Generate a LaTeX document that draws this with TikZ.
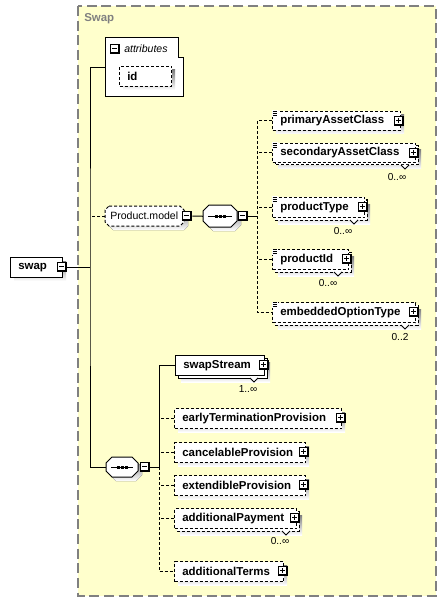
\documentclass[tikz,border=0pt]{standalone}
\usepackage{fontspec}
\setmainfont{Liberation Sans}
\usetikzlibrary{calc}
\definecolor{panelfill}{RGB}{255,255,204}
\definecolor{shade}{RGB}{192,192,192}
\definecolor{pborder}{RGB}{128,128,128}
\newcommand\fb{\fontsize{8.6pt}{10pt}\selectfont\bfseries}
\newcommand\fr{\fontsize{7.9pt}{9pt}\selectfont}
\newcommand\fl{\fontsize{7.6pt}{9pt}\selectfont}
\tikzset{
  bx/.style={draw=black, fill=white, line width=0.75pt, rectangle, inner sep=0pt, anchor=north west},
  optl/.style={dash pattern=on 2.25pt off 1.5pt},
  con/.style={draw=black, line width=0.75pt},
  lbl/.style={font=\fb, inner sep=0pt, anchor=west},
  mult/.style={font=\fl, inner sep=0pt},
}
% single element: #1 style, #2 name, #3 x1, #4 y1, #5 x2, #6 y2, #7 text
\newcommand\elS[7]{%
  \fill[shade] (#3+4,#4+4) rectangle (#5+4,#6+4);
  \node[bx,#1,minimum width={(#5-#3)*0.75pt},minimum height={(#6-#4)*0.75pt}] (#2) at (#3,#4) {};
  \node[lbl] (#2t) at ($(#2.west)+(8,0)$) {#7};
}
% multiple element
\newcommand\elM[7]{%
  \fill[shade] (#3+6,#4+7) rectangle (#5+6,#6+7);
  \draw[fill=white,line width=0.75pt,#1] (#3+3,#4+3) rectangle (#5+3,#6+3);
  \draw[fill=white,line width=0.75pt] (#5-14,#6+3) -- (#5-10,#6+7) -- (#5-6,#6+3);
  \node[bx,#1,minimum width={(#5-#3)*0.75pt},minimum height={(#6-#4)*0.75pt}] (#2) at (#3,#4) {};
  \node[lbl] (#2t) at ($(#2.west)+(8,0)$) {#7};
}
% plus / minus boxes: #1 name, #2 x, #3 y
\newcommand\plusbx[3]{%
  \node[fill=black, minimum size=10*0.75pt, inner sep=0pt] (#1) at (#2,#3) {};
  \fill[white] (#2-4,#3-4) rectangle (#2+3,#3+3);
  \draw[line width=0.75pt] (#2-3,#3-0.5) -- (#2+2,#3-0.5) (#2-0.5,#3-3) -- (#2-0.5,#3+2);
}
\newcommand\minusbx[3]{%
  \node[fill=black, minimum size=10*0.75pt, inner sep=0pt] (#1) at (#2,#3) {};
  \fill[white] (#2-4,#3-4) rectangle (#2+3,#3+3);
  \draw[line width=0.75pt] (#2-3,#3-0.5) -- (#2+2,#3-0.5);
}
% type icon at top-left corner
\newcommand\ticon[2]{%
  \fill[white] (#1-0.5,#2-0.5) rectangle (#1+5.5,#2+6);
  \draw[line width=0.6pt] (#1+0.5,#2+0.5) -- (#1+5,#2+0.5) (#1+0.5,#2+2.5) -- (#1+5,#2+2.5) (#1+0.5,#2+4.5) -- (#1+5,#2+4.5);
}
% chamfered group shape: #1 style, #2 name, #3 x1, #4 y1, #5 x2, #6 y2, #7 chamfer
\newcommand\octo[7]{%
  \fill[shade] (#3+4+#7,#4+4) -- (#5+4-#7,#4+4) -- (#5+4,#4+4+#7) -- (#5+4,#6+4-#7) -- (#5+4-#7,#6+4) -- (#3+4+#7,#6+4) -- (#3+4,#6+4-#7) -- (#3+4,#4+4+#7) -- cycle;
  \node[minimum width={(#5-#3)*0.75pt}, minimum height={(#6-#4)*0.75pt}, inner sep=0pt, anchor=north west] (#2) at (#3,#4) {};
  \draw[fill=white, line width=0.75pt, #1] (#3+#7,#4) -- (#5-#7,#4) -- (#5,#4+#7) -- (#5,#6-#7) -- (#5-#7,#6) -- (#3+#7,#6) -- (#3,#6-#7) -- (#3,#4+#7) -- cycle;
}
\newcommand\seqin[3]{% x1, x2, yc
  \draw[line width=0.75pt] (#1+5,#3) -- (#2-5,#3);
  \fill[black] ($(#1/2+#2/2-5.5,#3-1.5)$) rectangle ++(3,3);
  \fill[black] ($(#1/2+#2/2-1.5,#3-1.5)$) rectangle ++(3,3);
  \fill[black] ($(#1/2+#2/2+2.5,#3-1.5)$) rectangle ++(3,3);
}
\begin{document}
\begin{tikzpicture}[x=0.75pt,y=-0.75pt]
\useasboundingbox (0,0) rectangle (447,602);
\fill[white] (0,0) rectangle (447,602);
% panel
\draw[pborder, line width=1.1pt, dash pattern=on 7.5pt off 3.5pt, fill=panelfill] (78,6) rectangle (436,596);
\node[font=\fb, text=pborder, inner sep=0pt, anchor=west] (title) at (84,19) {Swap};

% swap element
\elS{}{swap}{10}{257}{62}{277}{swap}
\minusbx{mswap}{62}{267}
\coordinate (j1) at (90,267);

% attributes
\node[minimum width={78*0.75pt}, minimum height={59*0.75pt}, inner sep=0pt, anchor=north west] (attr) at (105,38) {};
\draw[fill=white, line width=0.75pt] (105,38) -- (178,38) -- (178,58) -- (183,58) -- (183,97) -- (105,97) -- cycle;
\minusbx{mattr}{115}{49}
\node[font=\fr\itshape, inner sep=0pt, anchor=west] (attrt) at (124,49) {attributes};
\elS{optl}{id}{119}{66}{171}{86}{id}

% Product.model group
\octo{optl}{pm}{105}{206}{184}{226}{4}
\node[font=\fr, inner sep=0pt, anchor=west] (pmt) at (110,216) {Product.model};
\minusbx{mpm}{187}{216}
\octo{}{seqa}{203}{205}{237}{227}{6}
\seqin{203}{237}{216}
\minusbx{mseqa}{243}{216}
\coordinate (j2) at (257,216);

% children of Product.model
\elS{optl}{pac}{272}{111}{400}{130}{primaryAssetClass}
\ticon{272}{111}
\plusbx{ppac}{399}{121}
\elM{optl}{sac}{272}{143}{415}{162}{secondaryAssetClass}
\ticon{272}{143}
\plusbx{psac}{414}{153}
\node[mult] (sacm) at (397,177) {0..∞};
\elM{optl}{pt}{272}{197}{364}{217}{productType}
\ticon{272}{197}
\plusbx{ppt}{363}{207}
\node[mult] (ptm) at (343,231) {0..∞};
\elM{optl}{pid}{272}{249}{348}{269}{productId}
\ticon{272}{249}
\plusbx{ppid}{347}{259}
\node[mult] (pidm) at (328,283) {0..∞};
\elM{optl}{eot}{272}{302}{415}{322}{embeddedOptionType}
\ticon{272}{302}
\plusbx{peot}{414}{312}
\node[mult] (eotm) at (400,337) {0..2};

% second sequence
\octo{}{seqb}{106}{457}{138}{477}{6}
\seqin{106}{138}{467}
\minusbx{mseqb}{145}{467}
\coordinate (j3) at (159,467);

\elM{}{ss}{175}{355}{264}{375}{swapStream}
\plusbx{pss}{264}{365}
\node[mult] (ssm) at (248,389) {1..∞};
\elS{optl}{etp}{174}{408}{341}{428}{earlyTerminationProvision}
\plusbx{petp}{341}{418}
\elS{optl}{cp}{174}{442}{305}{462}{cancelableProvision}
\plusbx{pcp}{304}{452}
\elS{optl}{ep}{174}{475}{305}{495}{extendibleProvision}
\plusbx{pep}{304}{485}
\elM{optl}{ap}{174}{508}{296}{528}{additionalPayment}
\plusbx{pap}{295}{518}
\node[mult] (apm) at (280,541) {0..∞};
\elS{optl}{at}{174}{561}{283}{581}{additionalTerms}
\plusbx{pat}{283}{571}

% connectors
\draw[con] (mswap.east) -- (j1);
\draw[con] (attr.west) -| (j1) |- (seqb.west);
\draw[con,optl] (pm.west) -- (pm.west -| j1);
\draw[con] (mpm.east) -- (seqa.west);
\draw[con] (mseqa.east) -- (j2);
\draw[con,optl] (pac.west) -| (j2) |- (eot.west);
\draw[con,optl] (sac.west) -- (sac.west -| j2);
\draw[con,optl] (pt.west) -- (pt.west -| j2);
\draw[con,optl] (pid.west) -- (pid.west -| j2);
\draw[con] (mseqb.east) -- (j3);
\draw[con] (j3) |- (ss.west);
\draw[con,optl] (j3) |- (at.west);
\draw[con,optl] (etp.west) -- (etp.west -| j3);
\draw[con,optl] (cp.west) -- (cp.west -| j3);
\draw[con,optl] (ep.west) -- (ep.west -| j3);
\draw[con,optl] (ap.west) -- (ap.west -| j3);
\end{tikzpicture}
\end{document}
